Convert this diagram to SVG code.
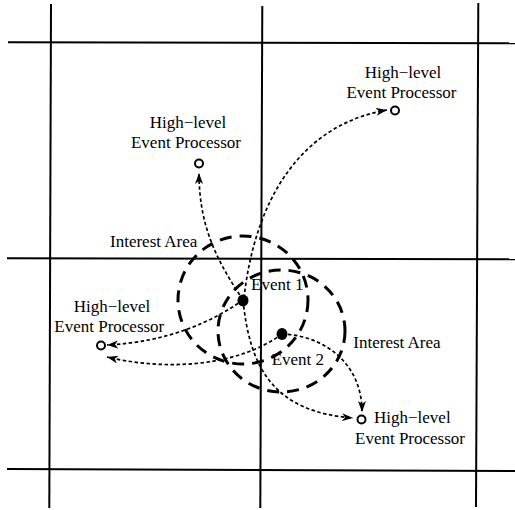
<svg xmlns="http://www.w3.org/2000/svg" width="515" height="510" viewBox="0 0 515 510">
<style>
.grid{stroke:#000;stroke-width:2;fill:none}
.area{stroke:#000;stroke-width:3;fill:none;stroke-dasharray:12 8}
.flow{stroke:#000;stroke-width:1.7;fill:none;stroke-dasharray:3.5 2.5;marker-end:url(#ah)}
.proc{fill:#fff;stroke:#000;stroke-width:2}
.ev{fill:#000}
text{font-family:"Liberation Serif","Times New Roman",serif;font-size:17px;fill:#000}
.c{text-anchor:middle}
</style>
<defs>
<marker id="ah" markerUnits="userSpaceOnUse" markerWidth="12" markerHeight="9" refX="11" refY="4" orient="auto">
<path d="M0,0 L11,4 L0,8 L3,4 z" fill="#000"/>
</marker>
</defs>
<rect width="515" height="510" fill="#fff"/>
<g id="grid">
<line class="grid" x1="51" y1="4" x2="49.3" y2="508"/>
<line class="grid" x1="262.3" y1="6" x2="260.3" y2="508"/>
<line class="grid" x1="478.3" y1="3" x2="476" y2="507"/>
<line class="grid" x1="8" y1="42.3" x2="515" y2="43.3"/>
<line class="grid" x1="7" y1="258.3" x2="515" y2="259.3"/>
<line class="grid" x1="7" y1="469" x2="515" y2="471"/>
</g>
<g id="interest-area-1">
<ellipse class="area" cx="243" cy="300" rx="65" ry="64"/>
<text x="110" y="246.7">Interest Area</text>
</g>
<g id="interest-area-2">
<ellipse class="area" cx="281.5" cy="331" rx="63.5" ry="61"/>
<text x="353.3" y="347.5">Interest Area</text>
</g>
<g id="connectors">
<path class="flow" d="M244,298 C255,200 300,125 387,110"/>
<path class="flow" d="M243,300 C220,265 199,230 199,173"/>
<path class="flow" d="M243,300 C215,320 170,342 107,345"/>
<path class="flow" d="M282,334 C240,365 170,372 107,357"/>
<path class="flow" d="M243,300 C250,370 275,412 353,418"/>
<path class="flow" d="M282,334 C320,335 362,360 362,412"/>
</g>
<g id="event-1">
<ellipse class="ev" cx="243" cy="300.5" rx="5.5" ry="6"/>
<text x="251" y="289.5">Event 1</text>
</g>
<g id="event-2">
<ellipse class="ev" cx="282" cy="334" rx="5.5" ry="6"/>
<text x="271.7" y="365">Event 2</text>
</g>
<g id="hlep-top-right">
<circle class="proc" cx="395" cy="110.5" r="4"/>
<text class="c" x="403" y="78">High−level</text>
<text class="c" x="401.5" y="98.3">Event Processor</text>
</g>
<g id="hlep-top-left">
<circle class="proc" cx="199" cy="163.5" r="4"/>
<text class="c" x="188" y="128.3">High−level</text>
<text class="c" x="186" y="148.3">Event Processor</text>
</g>
<g id="hlep-left">
<circle class="proc" cx="101" cy="345.5" r="4"/>
<text class="c" x="112" y="311.7">High−level</text>
<text class="c" x="109.3" y="331.7">Event Processor</text>
</g>
<g id="hlep-bottom-right">
<circle class="proc" cx="361.5" cy="419.5" r="4"/>
<text x="374" y="422.7">High−level</text>
<text x="355" y="444.3">Event Processor</text>
</g>
</svg>
